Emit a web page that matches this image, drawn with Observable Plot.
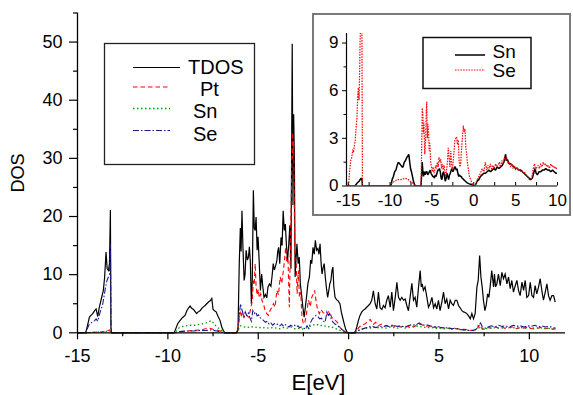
<!DOCTYPE html>
<html><head><meta charset="utf-8">
<script src="https://cdn.jsdelivr.net/npm/d3@7"></script>
<script src="https://cdn.jsdelivr.net/npm/@observablehq/plot@0.6"></script>
<style>
html,body{margin:0;padding:0;background:#fff;}
#wrap{position:relative;width:573px;height:395px;overflow:hidden;}
#wrap svg{position:absolute;}
</style></head><body><div id="wrap"></div>
<script>
// ---------- main chart data (E [eV], DOS) ----------
const tdos = [
[-15,0],[-14.55,0],[-14.45,1.2],[-14.34,2.7],[-14.25,3.0],[-14.16,3.3],[-14.05,3.8],[-13.97,4.1],[-13.88,2.8],[-13.8,4.3],[-13.7,5.6],[-13.57,7.3],[-13.5,9.5],[-13.42,13.9],[-13.36,11.0],[-13.29,10.7],[-13.23,11.9],[-13.18,21.1],[-13.15,1.0],[-13.12,0],
[-9.65,0],[-9.55,0.8],[-9.45,1.6],[-9.33,2.1],[-9.2,2.6],[-9.05,3.0],[-8.95,3.8],[-8.85,4.3],[-8.77,4.6],[-8.68,4.2],[-8.58,4.0],[-8.48,3.6],[-8.41,3.3],[-8.32,3.6],[-8.22,3.8],[-8.12,4.2],[-8.02,4.5],[-7.94,4.7],[-7.85,5.0],[-7.75,5.3],[-7.66,5.5],[-7.57,5.9],[-7.5,4.0],[-7.42,3.8],[-7.33,3.6],[-7.22,2.8],[-7.11,2.1],[-7.02,1.0],[-6.93,0.4],[-6.85,0],
[-6.2,0],[-6.12,0.5],[-6.05,12],[-5.99,18],[-5.95,14],[-5.9,21],[-5.85,15],[-5.78,9],[-5.73,10],[-5.67,14.2],[-5.6,12.5],[-5.54,13],[-5.49,14.8],[-5.44,12.4],[-5.38,5],[-5.33,9],[-5.27,24.5],[-5.22,18],[-5.17,17.6],[-5.12,19.9],[-5.06,14.2],[-5.01,16.5],[-4.95,12.4],[-4.88,7.3],[-4.81,10.1],[-4.75,8],[-4.68,6.1],[-4.6,6.6],[-4.53,6],[-4.46,7.9],[-4.38,8.4],[-4.3,8],[-4.24,9.6],[-4.17,11.9],[-4.11,10.8],[-4.04,11.5],[-3.97,12.4],[-3.92,14],[-3.87,14.7],[-3.81,11.9],[-3.74,16.4],[-3.68,15],[-3.62,21],[-3.56,17.6],[-3.5,18.7],[-3.44,15],[-3.38,12.4],[-3.31,15.3],[-3.25,18.5],[-3.19,11],[-3.12,49.7],[-3.08,22],[-3.04,37.6],[-3.0,30],[-2.96,9.6],[-2.92,12],[-2.86,15.3],[-2.79,11.9],[-2.73,13],[-2.67,8.4],[-2.6,6.5],[-2.53,4.4],[-2.46,2.7],[-2.39,4.5],[-2.33,6.1],[-2.25,8.5],[-2.17,9.6],[-2.1,12.5],[-2.04,11.9],[-1.97,14.7],[-1.9,13.5],[-1.84,15.9],[-1.77,14.2],[-1.7,14.5],[-1.64,13.5],[-1.58,15.3],[-1.52,11.9],[-1.47,10.1],[-1.41,11.2],[-1.35,11.9],[-1.29,9.6],[-1.22,7.5],[-1.16,6.1],[-1.1,7.2],[-1.04,8.4],[-0.98,9],[-0.92,10.7],[-0.87,11.3],[-0.82,8],[-0.75,6.1],[-0.67,5.7],[-0.58,5.5],[-0.48,5],[-0.4,3.5],[-0.32,2.5],[-0.24,1.5],[-0.16,0.6],[-0.08,0.1],[0,0],
[0.36,0],[0.45,1.0],[0.54,2.1],[0.63,3.0],[0.73,3.6],[0.82,3.9],[0.91,4.1],[1.0,4.4],[1.1,4.7],[1.19,5.0],[1.28,5.6],[1.37,7.2],[1.47,5.0],[1.56,4.1],[1.65,7.0],[1.74,4.3],[1.84,4.0],[1.93,4.7],[2.02,4.3],[2.11,5.6],[2.2,6.4],[2.3,4.4],[2.39,7.0],[2.48,3.8],[2.58,6.1],[2.67,8.7],[2.76,6.1],[2.85,5.6],[2.94,6.1],[3.04,5.6],[3.13,5.8],[3.22,4.7],[3.31,3.8],[3.4,6.1],[3.5,8.5],[3.59,5.6],[3.68,6.1],[3.77,4.4],[3.87,7.9],[3.96,10.7],[4.02,7.9],[4.07,8.4],[4.14,7.3],[4.23,7.9],[4.33,6.1],[4.42,4.4],[4.51,5.0],[4.61,6.1],[4.7,4.3],[4.79,5.0],[4.88,4.1],[4.97,5.6],[5.06,3.8],[5.16,5.3],[5.25,7.0],[5.34,5.0],[5.43,5.8],[5.53,4.1],[5.62,5.6],[5.71,5.0],[5.8,4.7],[5.9,5.6],[5.99,5.6],[6.08,4.7],[6.17,4.3],[6.27,3.8],[6.36,3.6],[6.45,3.5],[6.54,3.3],[6.64,2.9],[6.73,2.4],[6.82,3.3],[6.91,2.4],[7.0,3.3],[7.1,7.9],[7.17,9.0],[7.25,13.3],[7.32,9.6],[7.39,7.9],[7.46,5.6],[7.54,3.8],[7.61,4.7],[7.69,6.7],[7.76,6.1],[7.83,7.9],[7.92,10.7],[8.02,7.9],[8.07,10.1],[8.13,7.9],[8.2,8.4],[8.29,10.1],[8.39,8.1],[8.48,10.4],[8.57,9.3],[8.66,10.1],[8.76,8.4],[8.85,9.6],[8.94,7.6],[9.03,9.0],[9.12,7.0],[9.22,8.1],[9.31,9.0],[9.4,7.3],[9.49,6.4],[9.59,8.7],[9.68,7.3],[9.77,9.0],[9.86,6.1],[9.96,6.4],[10.05,8.7],[10.14,6.4],[10.23,6.1],[10.32,8.1],[10.41,6.7],[10.51,7.9],[10.6,9.3],[10.69,7.3],[10.78,5.6],[10.88,7.0],[10.97,8.4],[11.06,6.4],[11.15,5.6],[11.25,6.4],[11.34,6.4],[11.43,5.3]
];
const pt = [
[-15,0],[-14.5,0],[-14.0,0.1],[-13.5,0.2],[-13.2,0.5],[-13.15,0],[-9.6,0],[-9.3,0.2],[-9.0,0.3],[-8.6,0.4],[-8.2,0.5],[-7.9,0.7],[-7.7,0.8],[-7.5,0.6],[-7.3,0.5],[-7.1,0.3],[-6.9,0],[-6.2,0],[-6.12,0.5],[-6.05,2.5],[-5.98,3.8],[-5.92,3.0],[-5.85,3.5],[-5.78,2.7],[-5.7,3.3],[-5.62,3.0],[-5.55,2.7],[-5.48,3.3],[-5.4,4.4],[-5.33,5.5],[-5.27,9.0],[-5.22,8.4],[-5.17,11.9],[-5.12,8.0],[-5.06,6.5],[-5.0,7.5],[-4.94,6.0],[-4.86,6.7],[-4.79,5.5],[-4.71,5.0],[-4.62,3.8],[-4.53,3.3],[-4.44,3.0],[-4.35,3.8],[-4.26,4.3],[-4.16,5.0],[-4.07,4.4],[-3.97,7.3],[-3.88,6.5],[-3.79,9.6],[-3.7,8.5],[-3.61,10.7],[-3.55,12.4],[-3.48,14.7],[-3.42,12.0],[-3.35,12.4],[-3.28,4.4],[-3.22,15.0],[-3.16,25.0],[-3.12,34.5],[-3.08,30.0],[-3.04,33.0],[-3.0,20],[-2.96,12.0],[-2.9,11.9],[-2.85,6.7],[-2.78,10.7],[-2.72,6.1],[-2.65,7.0],[-2.58,2.7],[-2.5,1.5],[-2.42,1.8],[-2.33,3.3],[-2.22,5.6],[-2.12,4.5],[-2.04,6.1],[-1.95,6.7],[-1.88,7.3],[-1.8,5.5],[-1.72,4.0],[-1.62,3.3],[-1.52,4.0],[-1.42,3.5],[-1.32,3.3],[-1.22,3.0],[-1.12,3.6],[-1.02,3.3],[-0.92,2.6],[-0.82,2.5],[-0.72,2.1],[-0.62,1.8],[-0.5,1.0],[-0.38,0.6],[-0.25,0.2],[-0.1,0],[0.3,0],[0.45,0.5],[0.6,1.0],[0.75,1.4],[0.9,1.5],[1.05,2.0],[1.2,2.3],[1.35,1.4],[1.5,1.8],[1.65,1.2],[1.8,1.5],[1.95,1.2],[2.1,1.3],[2.25,1.0],[2.4,1.3],[2.55,1.1],[2.7,1.2],[2.85,1.0],[3.0,1.1],[3.2,1.0],[3.4,1.2],[3.6,1.0],[3.8,1.4],[4.0,1.5],[4.2,1.1],[4.4,1.2],[4.6,0.9],[4.8,1.0],[5.0,0.8],[5.2,0.9],[5.4,0.8],[5.6,0.7],[5.8,0.8],[6.0,0.7],[6.2,0.6],[6.4,0.6],[6.6,0.5],[6.8,0.4],[7.0,0.5],[7.15,0.9],[7.25,1.4],[7.35,0.8],[7.5,0.6],[7.7,0.9],[7.9,0.8],[8.1,1.0],[8.3,0.8],[8.5,1.0],[8.7,0.7],[8.9,0.9],[9.1,1.0],[9.3,0.7],[9.5,0.9],[9.7,0.8],[9.9,1.0],[10.1,0.7],[10.3,0.9],[10.5,0.8],[10.7,1.0],[10.9,0.7],[11.1,0.8],[11.3,0.6],[11.45,0.7]
];
const sn = [
[-15,0],[-14.5,0],[-14.0,0.1],[-13.5,0.2],[-13.2,0.3],[-13.15,0],[-9.65,0],[-9.5,0.6],[-9.3,1.0],[-9.0,1.2],[-8.8,1.3],[-8.5,1.3],[-8.2,1.5],[-8.0,1.6],[-7.8,1.8],[-7.6,2.1],[-7.45,1.6],[-7.3,1.0],[-7.1,0.6],[-6.95,0.2],[-6.85,0],[-6.2,0],[-6.1,0.5],[-6.0,1.2],[-5.8,1.0],[-5.6,0.9],[-5.4,1.1],[-5.2,0.9],[-5.0,1.0],[-4.8,0.8],[-4.6,0.9],[-4.4,0.8],[-4.2,0.9],[-4.0,0.8],[-3.8,0.7],[-3.6,0.9],[-3.4,0.8],[-3.2,1.0],[-3.0,0.7],[-2.8,0.8],[-2.6,0.6],[-2.4,0.8],[-2.2,1.0],[-2.0,1.3],[-1.8,1.5],[-1.6,1.2],[-1.4,1.3],[-1.2,1.0],[-1.0,1.1],[-0.8,0.8],[-0.6,0.6],[-0.4,0.3],[-0.2,0.1],[0,0],[0.3,0],[0.5,0.4],[0.7,0.6],[0.9,0.7],[1.1,0.9],[1.3,0.8],[1.5,1.0],[1.7,0.8],[1.9,0.9],[2.1,0.8],[2.3,1.0],[2.5,0.9],[2.7,0.8],[2.9,1.0],[3.1,0.8],[3.3,0.9],[3.5,1.0],[3.7,1.1],[3.9,1.2],[4.1,0.9],[4.3,1.0],[4.5,0.8],[4.7,0.9],[4.9,0.7],[5.1,0.8],[5.3,0.7],[5.5,0.8],[5.7,0.6],[5.9,0.7],[6.1,0.6],[6.3,0.5],[6.5,0.5],[6.7,0.4],[6.9,0.4],[7.1,0.6],[7.25,0.9],[7.4,0.6],[7.6,0.7],[7.8,0.8],[8.0,0.9],[8.2,0.8],[8.4,0.9],[8.6,0.8],[8.8,1.0],[9.0,0.8],[9.2,0.9],[9.4,0.8],[9.6,0.9],[9.8,0.8],[10.0,0.9],[10.2,0.7],[10.4,0.8],[10.6,0.9],[10.8,0.7],[11.0,0.8],[11.2,0.7],[11.45,0.6]
];
const se = [
[-15,0],[-14.55,0],[-14.45,0.8],[-14.34,1.5],[-14.2,1.8],[-14.05,2.1],[-13.97,2.4],[-13.88,2.0],[-13.78,3.2],[-13.68,4.2],[-13.6,5.0],[-13.52,6.5],[-13.45,7.8],[-13.38,8.9],[-13.3,9.5],[-13.23,10.0],[-13.18,15.3],[-13.14,0.3],[-13.1,0],[-9.65,0],[-9.4,0.2],[-9.0,0.3],[-8.6,0.3],[-8.2,0.4],[-7.9,0.4],[-7.6,0.5],[-7.3,0.3],[-7.0,0.1],[-6.85,0],[-6.2,0],[-6.12,0.8],[-6.05,3.0],[-5.98,5.0],[-5.92,4.2],[-5.86,3.5],[-5.8,2.8],[-5.72,3.6],[-5.64,3.0],[-5.55,3.4],[-5.46,2.6],[-5.38,2.0],[-5.3,3.8],[-5.22,3.3],[-5.14,3.6],[-5.06,2.9],[-4.98,3.1],[-4.9,2.6],[-4.8,2.4],[-4.7,2.1],[-4.6,1.8],[-4.5,2.0],[-4.4,1.5],[-4.3,1.7],[-4.2,1.3],[-4.1,1.6],[-4.0,1.4],[-3.9,1.5],[-3.8,1.2],[-3.7,1.5],[-3.6,1.1],[-3.5,1.4],[-3.4,1.2],[-3.3,1.0],[-3.2,1.3],[-3.1,1.1],[-3.0,1.3],[-2.9,1.0],[-2.8,1.2],[-2.7,0.9],[-2.6,1.0],[-2.5,0.8],[-2.4,0.7],[-2.3,1.2],[-2.2,0.7],[-2.1,1.8],[-2.0,2.4],[-1.9,2.7],[-1.8,3.0],[-1.7,2.8],[-1.6,2.4],[-1.5,2.5],[-1.4,2.0],[-1.3,1.8],[-1.2,3.6],[-1.12,3.0],[-1.05,3.3],[-0.95,2.2],[-0.85,1.8],[-0.75,1.5],[-0.6,1.2],[-0.45,0.8],[-0.3,0.4],[-0.15,0.1],[0,0],[0.3,0],[0.5,0.3],[0.7,0.6],[0.9,0.8],[1.1,1.0],[1.3,1.1],[1.5,0.9],[1.7,1.1],[1.9,1.0],[2.1,1.2],[2.3,1.0],[2.5,1.3],[2.7,1.1],[2.9,1.2],[3.1,1.0],[3.3,1.2],[3.5,1.4],[3.7,1.3],[3.9,1.7],[4.1,1.3],[4.3,1.4],[4.5,1.2],[4.7,1.0],[4.9,1.1],[5.1,0.9],[5.3,0.8],[5.5,0.9],[5.7,0.7],[5.9,0.8],[6.1,0.6],[6.3,0.5],[6.5,0.5],[6.7,0.4],[6.9,0.4],[7.05,0.6],[7.2,1.4],[7.3,1.7],[7.4,1.0],[7.55,0.8],[7.7,1.0],[7.9,1.2],[8.1,1.0],[8.3,1.3],[8.5,1.1],[8.7,1.2],[8.9,1.0],[9.1,1.3],[9.3,1.1],[9.5,1.2],[9.7,1.0],[9.9,1.2],[10.1,1.1],[10.3,1.3],[10.5,1.0],[10.7,1.2],[10.9,1.0],[11.1,1.1],[11.3,0.9],[11.45,0.8]
];

// ---------- inset data (E [eV], DOS) ----------
const insetSn = [
[-15.2,0],[-14.2,0],[-13.9,0.2],[-13.7,0.3],[-13.45,0.5],[-13.35,0.4],[-13.3,0],[-9.9,0],[-9.75,0.4],[-9.6,0.6],[-9.45,0.9],[-9.3,1.0],[-9.15,1.3],[-9.0,1.5],[-8.85,1.4],[-8.7,1.3],[-8.55,1.2],[-8.45,1.2],[-8.3,1.5],[-8.15,1.6],[-8.0,1.8],[-7.85,1.9],[-7.76,2.0],[-7.65,1.5],[-7.55,1.1],[-7.4,0.8],[-7.2,0.3],[-7.05,0.05],[-6.9,0],[-6.3,0],[-6.22,0.8],[-6.16,1.5],[-6.08,0.9],[-6.0,0.6],[-5.9,0.9],[-5.8,0.7],[-5.7,0.9],[-5.6,0.9],[-5.5,0.7],[-5.4,0.8],[-5.3,0.9],[-5.2,1.0],[-5.1,0.8],[-5.0,0.7],[-4.9,0.6],[-4.8,0.6],[-4.7,0.5],[-4.6,0.7],[-4.5,0.6],[-4.4,0.8],[-4.3,1.0],[-4.2,1.0],[-4.1,1.1],[-4.0,0.9],[-3.9,0.5],[-3.8,0.4],[-3.7,0.8],[-3.6,0.9],[-3.5,0.6],[-3.4,0.3],[-3.3,0.5],[-3.2,0.8],[-3.1,0.6],[-3.0,0.4],[-2.9,0.7],[-2.8,0.8],[-2.7,1.0],[-2.6,1.1],[-2.5,0.9],[-2.4,1.0],[-2.3,1.2],[-2.2,1.2],[-2.1,1.0],[-2.0,1.1],[-1.9,0.8],[-1.8,0.6],[-1.7,0.7],[-1.6,0.6],[-1.5,0.6],[-1.4,0.5],[-1.2,0.4],[-1.0,0.3],[-0.8,0.2],[-0.6,0.15],[-0.3,0.1],[0,0],[0.2,0.05],[0.4,0.3],[0.6,0.4],[0.8,0.6],[1.0,0.7],[1.2,0.8],[1.4,0.8],[1.6,0.9],[1.8,1.0],[2.0,0.9],[2.2,1.0],[2.4,1.1],[2.6,1.0],[2.8,1.2],[3.0,1.1],[3.2,1.2],[3.4,1.3],[3.6,1.5],[3.8,2.0],[3.9,1.6],[4.0,1.7],[4.2,1.4],[4.4,1.4],[4.6,1.3],[4.8,1.2],[5.0,1.1],[5.2,1.1],[5.4,1.0],[5.6,1.0],[5.8,0.9],[6.0,0.8],[6.2,0.7],[6.4,0.6],[6.6,0.5],[6.8,0.4],[7.0,0.5],[7.15,0.8],[7.3,1.1],[7.45,0.8],[7.6,0.7],[7.8,0.9],[8.0,0.9],[8.2,1.0],[8.4,1.0],[8.6,1.1],[8.8,1.0],[9.0,1.0],[9.2,0.9],[9.4,1.0],[9.6,0.9],[9.8,0.8],[10.0,0.8]
];
const insetSe = [
[-15.2,0],[-14.95,0],[-14.85,0.8],[-14.7,1.6],[-14.57,1.8],[-14.45,2.3],[-14.37,2.1],[-14.25,2.6],[-14.17,2.8],[-14.05,3.7],[-13.95,4.3],[-13.85,5.8],[-13.78,6.2],[-13.7,5.4],[-13.62,7.5],[-13.58,9.1],[-13.5,10.5],[-13.42,9.8],[-13.36,10.2],[-13.3,0.2],[-13.26,0],[-10.0,0],[-9.8,0.15],[-9.6,0.25],[-9.4,0.3],[-9.2,0.4],[-9.0,0.4],[-8.7,0.4],[-8.4,0.45],[-8.2,0.5],[-8.0,0.45],[-7.8,0.4],[-7.6,0.3],[-7.3,0.2],[-7.1,0.05],[-7.0,0],[-6.3,0],[-6.22,2.5],[-6.15,4.9],[-6.08,4.5],[-6.02,3.3],[-5.95,4.0],[-5.85,2.0],[-5.75,2.9],[-5.68,4.5],[-5.62,5.3],[-5.55,3.0],[-5.48,3.9],[-5.4,3.4],[-5.32,2.2],[-5.25,2.7],[-5.15,1.5],[-5.05,1.2],[-4.95,0.9],[-4.85,1.2],[-4.75,0.8],[-4.65,1.0],[-4.55,1.3],[-4.45,1.1],[-4.35,1.5],[-4.25,1.2],[-4.15,1.8],[-4.05,1.5],[-3.95,1.7],[-3.85,1.1],[-3.75,1.4],[-3.65,1.0],[-3.55,1.3],[-3.45,0.9],[-3.35,0.6],[-3.25,1.0],[-3.15,1.5],[-3.05,2.4],[-2.95,1.8],[-2.85,1.2],[-2.75,2.2],[-2.65,1.4],[-2.55,1.0],[-2.45,1.6],[-2.35,2.2],[-2.25,2.9],[-2.15,3.0],[-2.05,3.1],[-1.95,2.6],[-1.85,2.9],[-1.75,1.6],[-1.65,1.2],[-1.55,1.5],[-1.45,2.4],[-1.35,3.1],[-1.25,3.8],[-1.15,3.4],[-1.05,3.6],[-0.95,2.4],[-0.85,2.0],[-0.75,1.4],[-0.65,1.1],[-0.55,0.7],[-0.45,0.5],[-0.3,0.3],[-0.15,0.1],[0,0],[0.2,0.1],[0.4,0.4],[0.6,0.6],[0.8,0.8],[1.0,1.1],[1.2,0.9],[1.38,1.5],[1.55,1.0],[1.7,1.3],[1.85,1.1],[2.0,1.4],[2.15,1.0],[2.3,1.3],[2.45,1.1],[2.6,1.4],[2.75,1.2],[2.9,1.3],[3.05,1.5],[3.2,1.2],[3.35,1.6],[3.5,1.4],[3.65,1.8],[3.8,1.6],[3.95,1.8],[4.1,1.4],[4.25,1.5],[4.4,1.2],[4.55,1.4],[4.7,1.1],[4.85,1.3],[5.0,1.0],[5.15,1.2],[5.3,1.0],[5.45,1.1],[5.6,0.9],[5.75,1.0],[5.9,0.8],[6.05,0.9],[6.2,0.7],[6.35,0.6],[6.5,0.5],[6.65,0.4],[6.8,0.4],[6.95,0.6],[7.1,1.1],[7.25,1.4],[7.4,1.0],[7.55,1.2],[7.7,1.3],[7.85,1.1],[8.0,1.4],[8.15,1.2],[8.3,1.5],[8.45,1.3],[8.6,1.4],[8.75,1.2],[8.9,1.3],[9.05,1.1],[9.2,1.4],[9.35,1.2],[9.5,1.3],[9.65,1.1],[9.8,1.2],[10.0,1.0]
];

// ---------- axes, ticks, labels ----------
const xDomain = [-15, 12];
const yDomain = [0, 55];
const xMajor = [-15, -10, -5, 0, 5, 10];
const xMinor = [-12.5, -7.5, -2.5, 2.5, 7.5];
const yMajor = [0, 10, 20, 30, 40, 50];
const yMinor = [5, 15, 25, 35, 45, 55];
const xTitle = "E[eV]";
const yTitle = "DOS";
const legendLabels = ["TDOS", "Pt", "Sn", "Se"];

const insetXDomain = [-15.2, 10];
const insetYDomain = [0, 9.6];
const insetXMajor = [-15, -10, -5, 0, 5, 10];
const insetXTicks = [-15, -12.5, -10, -7.5, -5, -2.5, 0, 2.5, 5, 7.5, 10];
const insetYMajor = [0, 3, 6, 9];
const insetYMinor = [1.5, 4.5, 7.5];
const insetLegendLabels = ["Sn", "Se"];

// ---------- rendering ----------
const FONT = "'Liberation Sans', Arial, Helvetica, sans-serif";
const X = d => d[0], Y = d => d[1];
const fmt = d => String(d);
const blank = () => "";

const seriesStyle = [
  {stroke: "#000000", strokeWidth: 1.2, dash: null},
  {stroke: "#ff0000", strokeWidth: 1.1, dash: "4.5,3"},
  {stroke: "#00a000", strokeWidth: 1.3, dash: "1.5,2.5"},
  {stroke: "#1a1a8c", strokeWidth: 1.1, dash: "6,2,1.5,2"}
];
const seriesData = [tdos, pt, sn, se];

const main = Plot.plot({
  width: 573, height: 395,
  marginLeft: 77, marginRight: 8, marginTop: 12.5, marginBottom: 62.7,
  style: {fontFamily: FONT, background: "white", color: "black"},
  x: {domain: xDomain},
  y: {domain: yDomain},
  marks: [
    ...seriesData.map((data, i) => Plot.line(data, {
      x: X, y: Y, stroke: seriesStyle[i].stroke, strokeWidth: seriesStyle[i].strokeWidth,
      strokeDasharray: seriesStyle[i].dash, strokeLinecap: "butt", strokeLinejoin: "miter", strokeMiterlimit: 4
    })),
    Plot.ruleY([0], {stroke: "black", strokeWidth: 1.3}),
    Plot.ruleX([xDomain[0]], {stroke: "black", strokeWidth: 1.3}),
    Plot.axisX({ticks: xMajor, tickSize: 7, tickPadding: 9, fontSize: 18, tickFormat: fmt, label: null, strokeWidth: 1.2}),
    Plot.axisX({ticks: xMinor, tickSize: 4, tickFormat: blank, label: null, strokeWidth: 1.2}),
    Plot.axisY({ticks: yMajor, tickSize: 8, tickPadding: 7, fontSize: 18, tickFormat: fmt, label: null, strokeWidth: 1.2}),
    Plot.axisY({ticks: yMinor, tickSize: 4, tickFormat: blank, label: null, strokeWidth: 1.2}),
    Plot.text([xTitle], {frameAnchor: "bottom", dy: 50, dx: -3, fontSize: 22, textAnchor: "middle", lineAnchor: "middle"}),
    Plot.text([yTitle], {frameAnchor: "left", dx: -59, rotate: -90, fontSize: 18, textAnchor: "middle", lineAnchor: "middle"})
  ]
});
main.style.left = "0px"; main.style.top = "0px";

// main legend
{
  const g = d3.select(main).append("g").attr("font-family", FONT).attr("font-size", 20).attr("text-anchor", "start");
  g.append("rect").attr("x", 104.5).attr("y", 43.5).attr("width", 150).attr("height", 121)
    .attr("fill", "white").attr("stroke", "#222").attr("stroke-width", 1.3);
  const rowY = [67.5, 87, 108.5, 130.5];
  const lineEnd = [180, 170, 170, 170];
  const textX = [188, 200, 193, 193];
  const baseY = [74, 96, 118, 141];
  legendLabels.forEach((lab, i) => {
    g.append("line").attr("x1", 133).attr("x2", lineEnd[i]).attr("y1", rowY[i]).attr("y2", rowY[i])
      .attr("stroke", seriesStyle[i].stroke).attr("stroke-width", seriesStyle[i].strokeWidth)
      .attr("stroke-dasharray", seriesStyle[i].dash);
    g.append("text").attr("x", textX[i]).attr("y", baseY[i]).attr("fill", "black").text(lab);
  });
}

// inset
const insetStyle = [
  {stroke: "#000000", strokeWidth: 1.5, dash: null},
  {stroke: "#ff0000", strokeWidth: 1.2, dash: "1.5,1.2"}
];
const insetData = [insetSn, insetSe];
const inset = Plot.plot({
  width: 259, height: 203,
  marginLeft: 34, marginRight: 14, marginTop: 20, marginBottom: 30.5,
  style: {fontFamily: FONT, background: "white", color: "black"},
  x: {domain: insetXDomain},
  y: {domain: insetYDomain},
  marks: [
    ...insetData.map((data, i) => Plot.line(data, {
      x: X, y: Y, stroke: insetStyle[i].stroke, strokeWidth: insetStyle[i].strokeWidth,
      strokeDasharray: insetStyle[i].dash, strokeLinecap: "butt", strokeLinejoin: "miter", clip: true
    })),
    Plot.ruleY([0], {stroke: "black", strokeWidth: 1.2}),
    Plot.ruleX([insetXDomain[0]], {stroke: "black", strokeWidth: 1.2}),
    Plot.axisY({ticks: insetYMajor, tickSize: 4, tickPadding: 4, fontSize: 17, tickFormat: fmt, label: null}),
    Plot.axisY({ticks: insetYMinor, tickSize: 2.5, tickFormat: blank, label: null}),
    Plot.axisX({ticks: insetXMajor, tickSize: 0, tickPadding: 8, fontSize: 17, tickFormat: fmt, label: null}),
    Plot.ruleX(insetXTicks, {x: d => d, y1: 0, y2: 0.22, stroke: "black", strokeWidth: 1})
  ]
});
inset.style.left = "312px"; inset.style.top = "13px";
{
  const s = d3.select(inset);
  s.append("rect").attr("x", 1).attr("y", 1).attr("width", 257).attr("height", 201)
    .attr("fill", "none").attr("stroke", "#7a7a7a").attr("stroke-width", 2);
  const g = s.append("g").attr("font-family", FONT).attr("font-size", 19).attr("text-anchor", "start");
  g.append("rect").attr("x", 111).attr("y", 24.5).attr("width", 108).attr("height", 51)
    .attr("fill", "white").attr("stroke", "#111").attr("stroke-width", 1.5);
  const rowY = [42, 57];
  const baseY = [45, 64];
  insetLegendLabels.forEach((lab, i) => {
    g.append("line").attr("x1", 143).attr("x2", 173).attr("y1", rowY[i]).attr("y2", rowY[i])
      .attr("stroke", insetStyle[i].stroke).attr("stroke-width", insetStyle[i].strokeWidth)
      .attr("stroke-dasharray", insetStyle[i].dash);
    g.append("text").attr("x", 180.5).attr("y", baseY[i]).attr("fill", "black").text(lab);
  });
}

const wrap = document.getElementById("wrap");
wrap.appendChild(main);
wrap.appendChild(inset);
</script></body></html>
